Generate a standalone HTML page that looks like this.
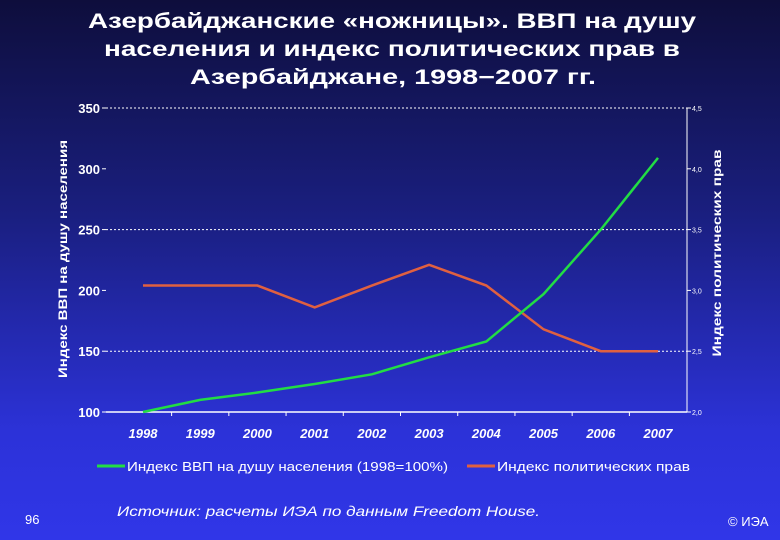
<!DOCTYPE html>
<html><head><meta charset="utf-8"><style>
body{margin:0;width:780px;height:540px;overflow:hidden;background:linear-gradient(#0e0e3c 0%,#1a1f80 40%,#2c32d8 80%,#3036e8 100%);font-family:"Liberation Sans",sans-serif;}
svg{position:absolute;left:0;top:0}
</style></head><body>
<svg width="780" height="540">
<g id="title" font-family="Liberation Sans, DejaVu Sans, sans-serif" font-weight="bold" font-size="21" fill="#fff" text-anchor="middle">
<text x="392" y="28" textLength="608" lengthAdjust="spacingAndGlyphs">Азербайджанские «ножницы». ВВП на душу</text>
<text x="392" y="56" textLength="576" lengthAdjust="spacingAndGlyphs">населения и индекс политических прав в</text>
<text x="393" y="84" textLength="406" lengthAdjust="spacingAndGlyphs">Азербайджане, 1998−2007 гг.</text>
</g>
<g id="grid"></g><g id="axes"></g><g id="lines"></g>
<text transform="translate(67,259) rotate(-90)" text-anchor="middle" font-size="12" font-weight="bold" fill="#fff" textLength="238" lengthAdjust="spacingAndGlyphs">Индекс ВВП на душу населения</text>
<text transform="translate(721,253) rotate(-90)" text-anchor="middle" font-size="12" font-weight="bold" fill="#fff" textLength="207" lengthAdjust="spacingAndGlyphs">Индекс политических прав</text>
<g>
<line x1="97" y1="466" x2="125" y2="466" stroke="#22dd44" stroke-width="3"/>
<text x="127" y="471" font-size="13" fill="#fff" textLength="321" lengthAdjust="spacingAndGlyphs">Индекс ВВП на душу населения (1998=100%)</text>
<line x1="467" y1="466" x2="495" y2="466" stroke="#e06040" stroke-width="3"/>
<text x="497" y="471" font-size="13" fill="#fff" textLength="193" lengthAdjust="spacingAndGlyphs">Индекс политических прав</text>
</g>
<text x="25" y="524" font-size="13" fill="#fff">96</text>
<text x="117" y="516" font-size="14" font-style="italic" fill="#fff" textLength="423" lengthAdjust="spacingAndGlyphs">Источник: расчеты ИЭА по данным Freedom House.</text>
<text x="728" y="526" font-size="13" fill="#fff">© ИЭА</text>
</svg>
<script>
const years=["1998","1999","2000","2001","2002","2003","2004","2005","2006","2007"];
const gdp=[100,110,116,123,131,145,158,197,250,309];
const rights=[3.04,3.04,3.04,2.86,3.04,3.21,3.04,2.68,2.5,2.5];
const leftTicks=[100,150,200,250,300,350];
const rightTicks=[2.0,2.5,3.0,3.5,4.0,4.5];
const L=106,R=687,T=108,B=412;
const yL=v=>B-(v-100)/250*(B-T);
const yR=v=>B-(v-2)/2.5*(B-T);
const xC=i=>143+i*(658-143)/9;
const NS="http://www.w3.org/2000/svg";
function mk(p,t,a){const e=document.createElementNS(NS,t);for(const k in a)e.setAttribute(k,a[k]);p.appendChild(e);return e;}
const grid=document.getElementById('grid'),axes=document.getElementById('axes'),lines=document.getElementById('lines');
leftTicks.forEach((v,i)=>{const y=yL(v);
 if(v!==100&&i%2==1||v===350){const g=mk(grid,'line',{x1:L,x2:R,y1:y,y2:y,stroke:'#fff','stroke-width':1,'stroke-dasharray':'2,2'});
 
 }
 const t=mk(axes,'text',{x:L-6,y:y+5,'text-anchor':'end','font-size':13,'font-weight':'bold',fill:'#fff'});t.textContent=v;
 
 
 mk(axes,'line',{x1:L-4,x2:L,y1:y,y2:y,stroke:'#fff'});
});
rightTicks.forEach(v=>{const y=yR(v);
 const t=mk(axes,'text',{x:R+5,y:y+3,'font-size':7,fill:'#fff'});t.textContent=v.toFixed(1).replace('.',',');
 
 
 mk(axes,'line',{x1:R,x2:R+4,y1:y,y2:y,stroke:'#fff'});
});
mk(axes,'line',{x1:L,x2:R,y1:B,y2:B,stroke:'#fff','stroke-width':1.5});
mk(axes,'line',{x1:R,x2:R,y1:T,y2:B,stroke:'#fff','stroke-width':1});
years.forEach((y,i)=>{
 const t=mk(axes,'text',{x:xC(i),y:438,'text-anchor':'middle','font-size':13,'font-weight':'bold','font-style':'italic',fill:'#fff'});t.textContent=y;
 
 
 if(i>0){const xx=(xC(i)+xC(i-1))/2;mk(axes,'line',{x1:xx,x2:xx,y1:B,y2:B+4,stroke:'#fff'});}
});
const r=mk(lines,'polyline',{points:rights.map((v,i)=>xC(i)+','+yR(v)).join(' '),fill:'none',stroke:'#e06040','stroke-width':2.5});


const g=mk(lines,'polyline',{points:gdp.map((v,i)=>xC(i)+','+yL(v)).join(' '),fill:'none',stroke:'#22dd44','stroke-width':2.5});


</script>
</body></html>
